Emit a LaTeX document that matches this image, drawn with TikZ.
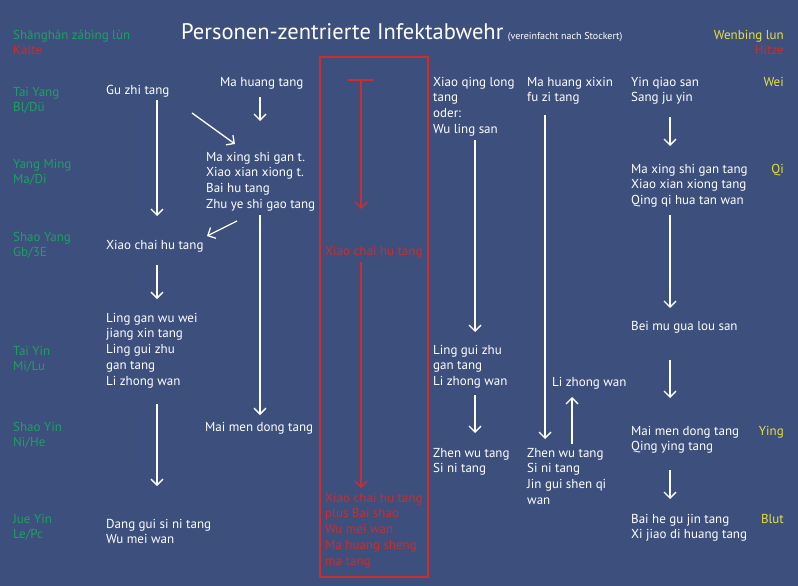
\documentclass[tikz,border=0pt]{standalone}
\usepackage{fontspec}
\setmainfont{PT Sans}
\usetikzlibrary{arrows.meta}
\definecolor{bgc}{RGB}{61,79,124}
\definecolor{grn}{RGB}{30,160,100}
\definecolor{redc}{RGB}{205,45,45}
\definecolor{ylw}{RGB}{230,225,60}
\begin{document}
\begin{tikzpicture}[x=1pt,y=-1pt,
 txt/.style={anchor=base west, inner sep=0pt, align=left, font=\fontsize{13}{15.8}\selectfont, text=white},
 lbl/.style={txt, text=grn},
 rtxt/.style={txt, text=redc},
 ytxt/.style={anchor=base east, inner sep=0pt, font=\fontsize{13}{15.8}\selectfont, text=ylw},
 arr/.style={draw=white, line width=1.3pt, -{Straight Barb[length=6pt,width=12pt,line width=1.3pt]}},
 rarr/.style={draw=redc, line width=1.3pt, -{Straight Barb[length=6pt,width=12pt,line width=1.3pt]}},
]
\fill[bgc] (0,0) rectangle (798,586);
\useasboundingbox (0,0) rectangle (798,586);

% title
\node[anchor=base west, inner sep=0pt, text=white, font=\fontsize{22.5}{26}\selectfont] (title) at (181,40) {Personen-zentrierte Infektabwehr};
\node[anchor=base west, inner sep=0pt, text=white, font=\fontsize{10}{12}\selectfont] (subtitle) at ([xshift=4pt]title.base east) {(vereinfacht nach Stockert)};

% left labels (base = last line)
\node[lbl] (shl) at (13,40) {Shānghán zábìng lùn};
\node[rtxt] (kalte) at (13,55) {Kälte};
\node[lbl] (taiyang) at (13,111.8) {Tai Yang\\Bl/Dü};
\node[lbl] (yangming) at (13,183.8) {Yang Ming\\Ma/Di};
\node[lbl] (shaoyang) at (13,256.8) {Shao Yang\\Gb/3E};
\node[lbl] (taiyin) at (13,370.8) {Tai Yin\\Mi/Lu};
\node[lbl] (shaoyin) at (13,446.8) {Shao Yin\\Ni/He};
\node[lbl] (jueyin) at (13,538.8) {Jue Yin\\Le/Pc};

% right labels
\node[ytxt] (wenbing) at (784,40) {Wenbing lun};
\node[ytxt, text=redc] (hitze) at (784,55) {Hitze};
\node[ytxt] (wei) at (784,86) {Wei};
\node[ytxt] (qi) at (784,173) {Qi};
\node[ytxt] (ying) at (784,435) {Ying};
\node[ytxt] (blut) at (784,523) {Blut};

% column 2
\node[txt] (guzhi) at (106,94) {Gu zhi tang};
\node[txt] (xiaochai) at (106,249) {Xiao chai hu tang};
\node[txt] (linggan) at (106,385.2) {Ling gan wu wei\\jiang xin tang\\Ling gui zhu\\gan tang\\Li zhong wan};
\node[txt] (danggui) at (106,543.8) {Dang gui si ni tang\\Wu mei wan};

% column 3
\node[txt] (mahuang) at (220,86) {Ma huang tang};
\node[txt] (maxing) at (206,208.4) {Ma xing shi gan t.\\Xiao xian xiong t.\\Bai hu tang\\Zhu ye shi gao tang};
\node[txt] (maimen) at (205,431) {Mai men dong tang};

% red box
\draw[redc, line width=2pt] (320,57) rectangle (428,577);
\node[rtxt] (redxiao) at (325,255) {Xiao chai hu tang};
\node[rtxt] (redlow) at (325,565.2) {Xiao chai hu tang\\plus Bai shao\\Wu mei wan\\Ma huang sheng\\ma tang};

% column 4
\node[txt] (xiaoqing) at (433,133.4) {Xiao qing long\\tang\\oder:\\Wu ling san};
\node[txt] (linggui) at (433,385.6) {Ling gui zhu\\gan tang\\Li zhong wan};
\node[txt] (zhenwu1) at (433,472.8) {Zhen wu tang\\Si ni tang};

% column 5
\node[txt] (mahx) at (527,101.8) {Ma huang xixin\\fu zi tang};
\node[txt] (lizhong) at (552,386) {Li zhong wan};
\node[txt] (zhenwu2) at (527,504.4) {Zhen wu tang\\Si ni tang\\Jin gui shen qi\\wan};

% column 6
\node[txt] (yinqiao) at (631,101.8) {Yin qiao san\\Sang ju yin};
\node[txt] (maxing2) at (631,204.6) {Ma xing shi gan tang\\Xiao xian xiong tang\\Qing qi hua tan wan};
\node[txt] (beimu) at (631,330) {Bei mu gua lou san};
\node[txt] (maimen2) at (631,450.8) {Mai men dong tang\\Qing ying tang};
\node[txt] (baihe) at (631,538.8) {Bai he gu jin tang\\Xi jiao di huang tang};

% arrow coordinates
\coordinate (a1s) at (157,100); \coordinate (a1e) at (157,216);
\coordinate (a2s) at (157,265); \coordinate (a2e) at (157,299);
\coordinate (a3s) at (157,404); \coordinate (a3e) at (157,486);
\coordinate (a4s) at (260,97);  \coordinate (a4e) at (260,121);
\coordinate (a5s) at (192,113); \coordinate (a5e) at (235,144);
\coordinate (a6s) at (260,215); \coordinate (a6e) at (260,415);
\coordinate (a7s) at (237,221); \coordinate (a7e) at (207,236);
\coordinate (r1s) at (361,80);  \coordinate (r1e) at (361,209);
\coordinate (r1a) at (348,80);  \coordinate (r1b) at (374,80);
\coordinate (r2s) at (361,262); \coordinate (r2e) at (361,488);
\coordinate (b1s) at (475,140); \coordinate (b1e) at (475,332);
\coordinate (b2s) at (475,395); \coordinate (b2e) at (475,433);
\coordinate (c1s) at (545,115); \coordinate (c1e) at (545,439);
\coordinate (c2s) at (572,444); \coordinate (c2e) at (572,397);
\coordinate (d1s) at (670,117); \coordinate (d1e) at (670,146);
\coordinate (d2s) at (670,215); \coordinate (d2e) at (670,308);
\coordinate (d3s) at (670,360); \coordinate (d3e) at (670,398);
\coordinate (d4s) at (670,470); \coordinate (d4e) at (670,499);

\draw[arr] (a1s) -- (a1e);
\draw[arr] (a2s) -- (a2e);
\draw[arr] (a3s) -- (a3e);
\draw[arr] (a4s) -- (a4e);
\draw[arr] (a5s) -- (a5e);
\draw[arr] (a6s) -- (a6e);
\draw[arr] (a7s) -- (a7e);
\draw[rarr] (r1s) -- (r1e);
\draw[redc, line width=1.3pt] (r1a) -- (r1b);
\draw[rarr] (r2s) -- (r2e);
\draw[arr] (b1s) -- (b1e);
\draw[arr] (b2s) -- (b2e);
\draw[arr] (c1s) -- (c1e);
\draw[arr] (c2s) -- (c2e);
\draw[arr] (d1s) -- (d1e);
\draw[arr] (d2s) -- (d2e);
\draw[arr] (d3s) -- (d3e);
\draw[arr] (d4s) -- (d4e);
\end{tikzpicture}
\end{document}
